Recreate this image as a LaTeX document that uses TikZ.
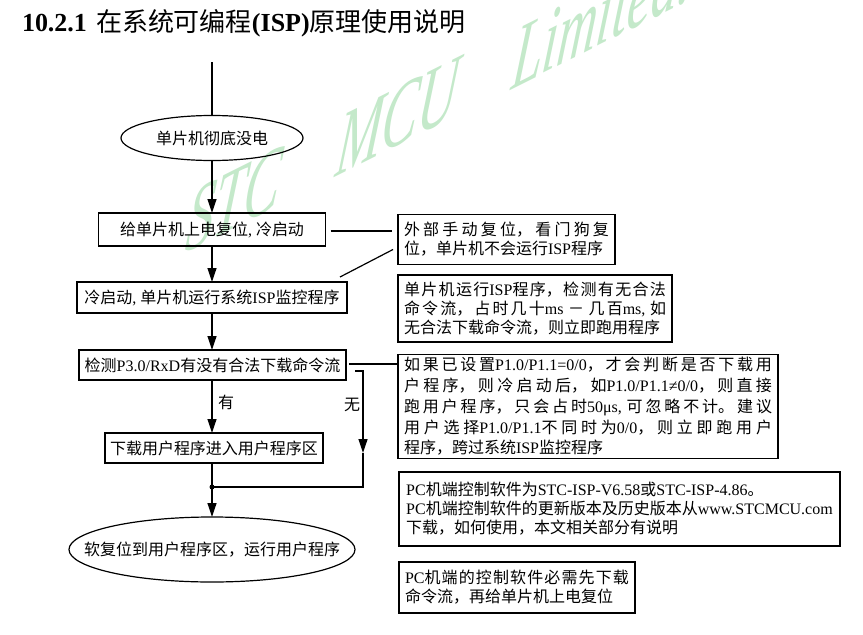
\documentclass[tikz,border=0pt]{standalone}
\usepackage{fontspec}
\setmainfont{Liberation Serif}
\newfontfamily\cjk{Noto Sans CJK SC}
\newfontfamily\latin{Liberation Serif}
\usetikzlibrary{shapes.geometric,arrows.meta,calc}
\XeTeXlinebreaklocale "zh"
\XeTeXlinebreakskip=0pt plus 4pt
\tolerance=10000
\hbadness=10000
\newcommand\tm[1]{\mbox{\latin #1}}
\definecolor{wmgreen}{RGB}{196,233,202}
\begin{document}
\begin{tikzpicture}[x=1pt,y=-1pt,
  every node/.style={inner sep=0pt, outer sep=0pt},
  txt/.style={font=\cjk\fontsize{16}{19}\selectfont},
  flowbox/.style={txt, draw, line width=1.2pt, rectangle, align=center},
  flowell/.style={txt, draw, line width=1.2pt, ellipse},
  notebox/.style={txt, draw, line width=1.2pt, rectangle, inner xsep=6pt, align=justify},
  plainbox/.style={txt, draw, line width=1.2pt, rectangle, align=left},
  conn/.style={line width=1.2pt},
  arr/.style={conn, -{Triangle[length=14pt,width=9pt]}},
  wmtext/.style={anchor=base west, inner sep=0pt, text=wmgreen, font=\latin\itshape\fontsize{88}{92}\selectfont, yslant=0.5, xscale=0.62, xslant=0.2}
]
\fill[white] (0,0) rectangle (863,635);
\useasboundingbox (0,0) rectangle (863,635);

% watermark
\node[wmtext] (wm1) at (184,253) {STC};
\node[wmtext] (wm2) at (334,177) {MCU};
\node[wmtext] (wm3) at (510,90) {Limited.};

% title
\node[anchor=base west, font=\fontsize{26}{30}\selectfont] (title) at (22,31)
  {\textbf{10.2.1}\hspace{9pt}{\cjk 在系统可编程}\textbf{(ISP)}{\cjk 原理使用说明}};

% flow nodes
\node[flowell, minimum width=182pt, minimum height=45pt] (e1) at (212,138) {单片机彻底没电};
\node[flowbox, minimum width=227pt, minimum height=33pt] (b1) at (212,229.5) {给单片机上电复位\tm{, }冷启动};
\node[flowbox, minimum width=270pt, minimum height=31pt] (b2) at (212,297.5) {冷启动\tm{, }单片机运行系统\tm{ISP}监控程序};
\node[flowbox, minimum width=267pt, minimum height=30pt] (b3) at (212.5,365) {检测\tm{P3.0/RxD}有没有合法下载命令流};
\node[flowbox, minimum width=218pt, minimum height=30pt] (b4) at (214,448) {下载用户程序进入用户程序区};
\node[flowell, minimum width=286pt, minimum height=65pt] (e2) at (212,549.5) {\makebox[0pt][c]{软复位到用户程序区，运行用户程序}};

\node[txt] (yes) at (226,402) {有};
\node[txt] (no) at (352,405) {无};

% note boxes
\node[notebox, text width=205pt, minimum height=50pt] (n1) at (506.5,239.5)
  {外部手动复位，看门狗复\linebreak 位，单片机不会运行\tm{ISP}程序};
\node[notebox, text width=262pt, minimum height=67pt] (n2) at (535,308.5)
  {单片机运行\tm{ISP}程序，检测有无合法\linebreak 命令流，占时几十\tm{ms} － 几百\tm{ms,} 如\linebreak 无合法下载命令流，则立即跑用程序};
\node[notebox, text width=368pt, minimum height=104pt, font=\cjk\fontsize{16}{20.7}\selectfont] (n3) at (588,406.5)
  {如果已设置\tm{P1.0/P1.1=0/0}，才会判断是否下载用\linebreak 户程序，则冷启动后，如\tm{P1.0/P1.1≠0/0}，则直接\linebreak 跑用户程序，只会占时\tm{50μs,} 可忽略不计。建议\linebreak 用户选择\tm{P1.0/P1.1}不同时为\tm{0/0}，则立即跑用户\linebreak 程序，跨过系统\tm{ISP}监控程序};
\node[plainbox, minimum width=441pt, minimum height=74pt] (n4) at (619.5,509)
  {\tm{PC}机端控制软件为\tm{STC-ISP-V6.58}或\tm{STC-ISP-4.86}。\\
   \tm{PC}机端控制软件的更新版本及历史版本从\tm{www.STCMCU.com}\\
   下载，如何使用，本文相关部分有说明};
\node[notebox, text width=224pt, minimum height=51pt] (n5) at (517,587.5)
  {\tm{PC}机端的控制软件必需先下载\linebreak 命令流，再给单片机上电复位};

% connectors
\coordinate (top) at (212,62);
\draw[conn] (top) -- (e1.north);
\draw[arr] (e1.south) -- (e1.south |- b1.north);
\draw[arr] (b1.south) -- (b1.south |- b2.north);
\draw[arr] (b2.south) -- (b2.south |- b3.north);
\draw[arr] (b2.south |- b3.south) -- (b2.south |- b4.north);
\coordinate (j) at (212,487);
\draw[conn] (b4.south -| j) -- (j);
\fill (j) circle (2.5pt);
\draw[arr] (j) -- (e2.north);

\coordinate (c1) at (363,371);
\coordinate (tip) at (363,453);
\coordinate (c2) at (363,487);
\draw[arr] ($(b3.east)+(9,6)$) -- (c1) -- (tip);
\draw[conn] (tip) -- (c2) -- (j);

\coordinate (s3) at ($(b3.east)+(3,-1)$);
\draw[conn] (s3) -- (s3 -| n3.west);

\coordinate (s1) at ($(b1.east)+(5,1.5)$);
\coordinate (t1) at ($(n1.west)+(-6,0)$);
\draw[conn] (s1) -- (s1 -| t1);

\draw[conn] ($(b2.north east)+(-7,-5)$) -- ($(n1.south west)+(-5,-15)$);
\end{tikzpicture}
\end{document}
